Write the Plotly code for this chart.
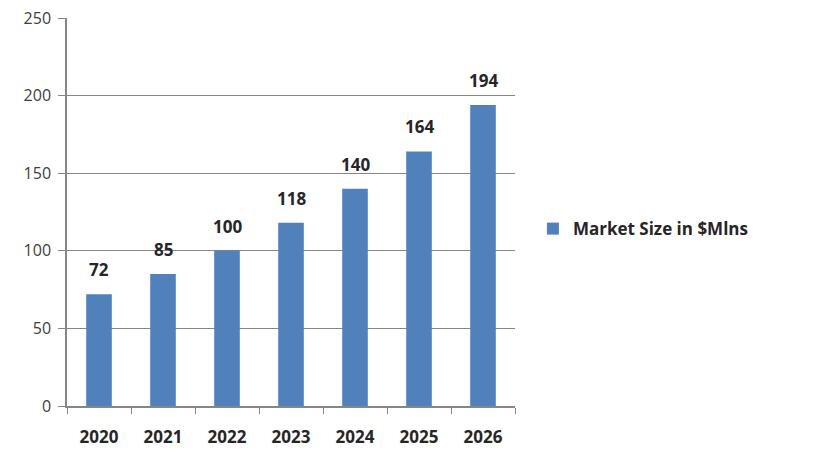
import plotly.graph_objects as go

years = ["2020", "2021", "2022", "2023", "2024", "2025", "2026"]
market_size = [72, 85, 100, 118, 140, 164, 194]
series_name = "Market Size in $Mlns"

fig = go.Figure()
fig.add_trace(go.Bar(
    x=years, y=market_size, name=series_name,
    marker=dict(color="#4F81BD", line=dict(width=0)),
    width=0.4,
    showlegend=True,
))
for i, v in enumerate(market_size):
    fig.add_annotation(
        x=i, y=v, text=str(v), showarrow=False, yanchor="bottom", yshift=11,
        font=dict(family="Open Sans", size=17, color="#262626", weight="bold"),
    )

fig.update_layout(
    width=833, height=463,
    margin=dict(l=59, r=326, t=10, b=65, autoexpand=False),
    paper_bgcolor="white", plot_bgcolor="white",
    font=dict(family="Open Sans", color="#404040"),
    showlegend=True,
    legend=dict(x=1.04, y=0.456, xanchor="left", yanchor="middle",
                font=dict(size=17, color="#262626", weight="bold"),
                itemsizing="constant", bgcolor="rgba(0,0,0,0)"),
)
fig.update_xaxes(
    type="category", range=[-0.5, len(years) - 0.5],
    automargin=False,
    showline=True, linecolor="#868686", linewidth=1.5,
    ticks="outside", tickson="boundaries", ticklen=6, tickcolor="#868686",
    tickfont=dict(size=17, color="#262626", weight="bold"),
    ticklabelstandoff=15, tickangle=0,
    showgrid=False,
)
fig.update_yaxes(
    automargin=False,
    range=[0, 250], dtick=50,
    showline=True, linecolor="#868686", linewidth=1.5,
    ticks="outside", ticklen=7, tickcolor="#868686",
    showgrid=True, gridcolor="#868686", gridwidth=1,
    tickfont=dict(size=16, color="#404040"),
    ticklabelstandoff=4, ticklabeloverflow="allow",
    zeroline=False,
)
fig.write_html("out.html")
